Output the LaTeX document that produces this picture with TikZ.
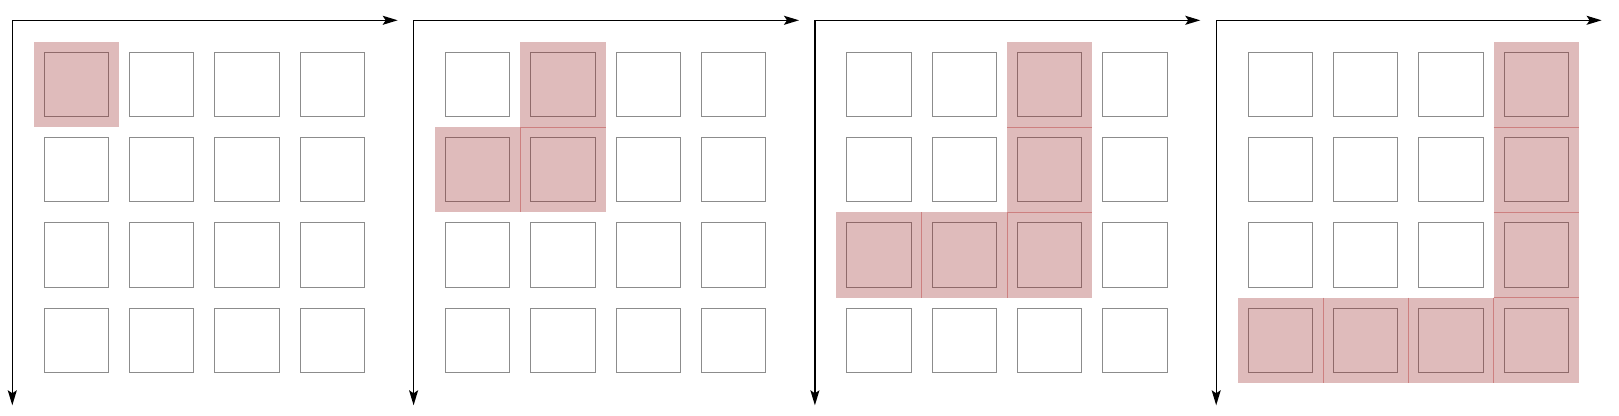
\documentclass[tikz,border=0pt]{standalone}
\usetikzlibrary{arrows.meta}
\definecolor{sqgray}{RGB}{140,140,140}
\definecolor{hlcol}{RGB}{150,30,30}
\definecolor{sepcol}{RGB}{205,128,128}
\newcommand\PX[1]{(12.3+401.3*(#1-1))}
\newcommand\hcell[3]{%
  \fill[hlfill] ({\PX{#1}+64.2+85.3*#2-42.65},{20.3+64.2+85.3*#3-42.65}) rectangle +(85.3,85.3);}
\newcommand\vsep[3]{%
  \draw[sepline] ({\PX{#1}+64.2+85.3*#2+42.65},{20.3+64.2+85.3*#3-42.65}) -- +(0,85.3);}
\newcommand\hsep[3]{%
  \draw[sepline] ({\PX{#1}+64.2+85.3*#2-42.65},{20.3+64.2+85.3*#3+42.65}) -- +(85.3,0);}
\begin{document}
\begin{tikzpicture}[x=0.5pt,y=-0.5pt,
  sq/.style={draw=sqgray,line width=0.5pt,minimum size=32.15pt,inner sep=0pt,outer sep=0pt,fill=none},
  axis/.style={line width=0.7pt,black,-{Stealth[length=7.5pt,width=4.5pt,inset=1.5pt]}},
  hlfill/.style={fill=hlcol,fill opacity=0.3},
  sepline/.style={draw=sepcol,line width=0.45pt}]
\useasboundingbox (0,0) rectangle (1619,416);
\foreach \p in {1,2,3,4}{
  \coordinate (o\p) at ({\PX{\p}},20.3);
  \coordinate (x\p) at ({\PX{\p}+385.4},20.3);
  \coordinate (y\p) at ({\PX{\p}},405.3);
  \draw[axis] (o\p) -- (x\p);
  \draw[axis] (o\p) -- (y\p);
  \foreach \i in {0,1,2,3}{
    \foreach \j in {0,1,2,3}{
      \node[sq] (s\p-\i-\j) at ({\PX{\p}+64.2+85.3*\i},{20.3+64.2+85.3*\j}) {};
    }
  }
}
% panel 1
\hcell{1}{0}{0}
% panel 2
\hcell{2}{1}{0}\hcell{2}{0}{1}\hcell{2}{1}{1}
\vsep{2}{0}{1}\hsep{2}{1}{0}
% panel 3
\hcell{3}{2}{0}\hcell{3}{2}{1}\hcell{3}{0}{2}\hcell{3}{1}{2}\hcell{3}{2}{2}
\hsep{3}{2}{0}\hsep{3}{2}{1}\vsep{3}{0}{2}\vsep{3}{1}{2}
% panel 4
\hcell{4}{3}{0}\hcell{4}{3}{1}\hcell{4}{3}{2}\hcell{4}{0}{3}\hcell{4}{1}{3}\hcell{4}{2}{3}\hcell{4}{3}{3}
\hsep{4}{3}{0}\hsep{4}{3}{1}\hsep{4}{3}{2}\vsep{4}{0}{3}\vsep{4}{1}{3}\vsep{4}{2}{3}
\end{tikzpicture}
\end{document}
